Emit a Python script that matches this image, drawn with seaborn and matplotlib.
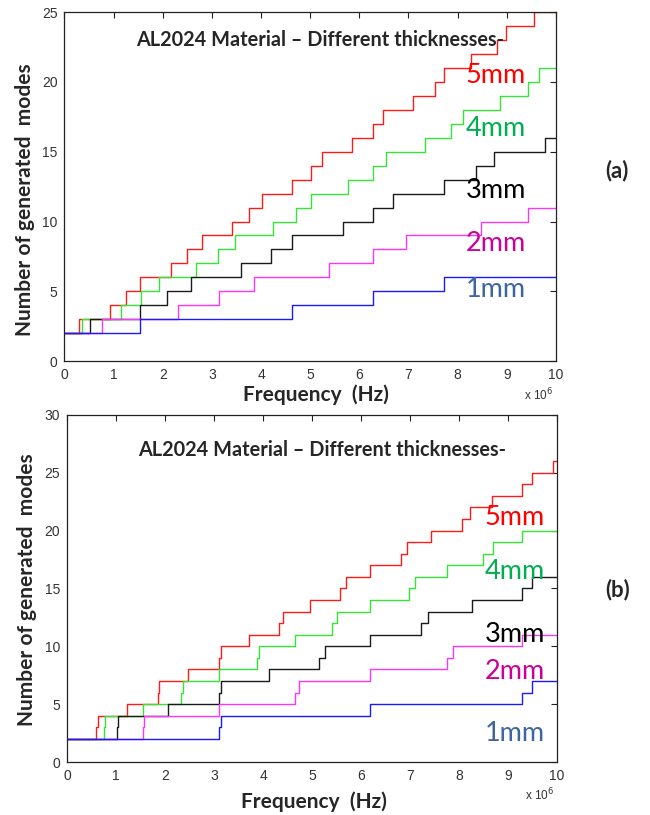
import numpy as np
import pandas as pd
import seaborn as sns
import matplotlib.pyplot as plt

# --- dados (frequencia em MHz, numero de modos) ---
# (a) frequencias onde a contagem sobe; a contagem comeca em 2
a_5mm = [0.30, 0.92, 1.25, 1.54, 2.16, 2.50, 2.79, 3.40, 3.76, 4.01, 4.64,
         5.01, 5.25, 5.86, 6.27, 6.48, 7.10, 7.54, 7.72, 8.28, 8.81, 8.98, 9.55]
a_4mm = [0.35, 1.15, 1.56, 1.93, 2.68, 3.13, 3.46, 4.24, 4.72,
         5.01, 5.77, 6.27, 6.55, 7.33, 7.86, 8.10, 8.86, 9.44, 9.65]
a_3mm = [0.51, 1.54, 2.08, 2.57, 3.60, 4.20, 4.64,
         5.66, 6.27, 6.69, 7.72, 8.38, 8.74, 9.78]
a_2mm = [0.76, 2.32, 3.14, 3.86, 5.39, 6.27, 6.94, 8.48, 9.44]
a_1mm = [1.54, 4.64, 6.27, 7.72]

# (b)
b_5mm = [0.59, 0.62, 1.23, 1.85, 1.88, 2.47, 3.09, 3.15, 3.72, 4.33, 4.41,
         4.95, 5.57, 5.69, 6.19, 6.81, 6.95, 7.43, 8.07, 8.23, 8.67, 9.30,
         9.49, 9.93]
b_4mm = [0.76, 0.78, 1.54, 2.32, 2.37, 3.09, 3.87, 3.92, 4.66,
         5.40, 5.52, 6.19, 6.98, 7.11, 7.75, 8.50, 8.69, 9.30]
b_3mm = [1.01, 1.04, 2.05, 3.09, 3.15, 4.12, 5.15, 5.27, 6.19,
         7.22, 7.36, 8.26, 9.30, 9.49]
b_2mm = [1.54, 1.57, 3.09, 4.66, 4.74, 6.19, 7.75, 7.89, 9.30]
b_1mm = [3.09, 3.15, 6.19, 9.30, 9.49]

espessuras = ['5mm', '4mm', '3mm', '2mm', '1mm']
n_inicial = 2
f_max = 10

cores_linha = {'5mm': '#ff1a1a', '4mm': '#33e633', '3mm': '#1a1a1a',
               '2mm': '#ff33ff', '1mm': '#1a1aff'}
cores_texto = {'5mm': '#ff0000', '4mm': '#00b050', '3mm': '#000000',
               '2mm': '#cc0099', '1mm': '#3d66a0'}


def monta_df(series):
    linhas = []
    for esp, saltos in zip(espessuras, series):
        fs = [0] + saltos + [f_max]
        ns = list(range(n_inicial, n_inicial + len(saltos) + 1))
        ns = ns + [ns[-1]]
        for f, n in zip(fs, ns):
            linhas.append({'f': f, 'n': n, 'esp': esp})
    return pd.DataFrame(linhas)


df_a = monta_df([a_5mm, a_4mm, a_3mm, a_2mm, a_1mm])
df_b = monta_df([b_5mm, b_4mm, b_3mm, b_2mm, b_1mm])

sns.set_style('white')
plt.rcParams['font.family'] = ['Lato', 'DejaVu Sans']

fig = plt.figure(figsize=(6.5, 8.15), dpi=100)
ax_a = fig.add_axes([0.0992, 0.557, 0.756, 0.428])
ax_b = fig.add_axes([0.1035, 0.065, 0.753, 0.426])

# eixo, dados, ymax, ticks, letra, (x,y) letra, (x,y) ylabel, (x,y) xlabel,
# y do "x 10^6", y do titulo, x e y dos rotulos de espessura
paineis = [
    (ax_a, df_a, 25, [0, 5, 10, 15, 20, 25], '(a)', (1.125, 0.547),
     (-0.08, 0.464), (0.512, -0.097), -0.097, 0.92, 8.17,
     {'5mm': 20.5, '4mm': 16.7, '3mm': 12.25, '2mm': 8.45, '1mm': 5.1}),
    (ax_b, df_b, 30, [0, 5, 10, 15, 20, 25, 30], '(b)', (1.125, 0.496),
     (-0.082, 0.496), (0.503, -0.115), -0.095, 0.9, 8.53,
     {'5mm': 21.1, '4mm': 16.5, '3mm': 11.05, '2mm': 7.8, '1mm': 2.5}),
]

for (ax, df, y_max, y_ticks, letra, pos_letra, pos_ylab, pos_xlab,
     y_exp, y_titulo, x_rot, pos_rotulo) in paineis:
    sns.lineplot(data=df, x='f', y='n', hue='esp', palette=cores_linha,
                 estimator=None, sort=False, drawstyle='steps-post',
                 linewidth=1.0, legend=False, ax=ax)
    ax.set_xlim(0, f_max)
    ax.set_ylim(0, y_max)
    ax.set_xticks(range(0, 11))
    ax.set_yticks(y_ticks)
    ax.tick_params(direction='in', top=True, right=True, length=4,
                   width=0.8, labelsize=10, colors='#222222',
                   labelcolor='#333333', pad=5)
    for lab in ax.get_xticklabels() + ax.get_yticklabels():
        lab.set_family('Liberation Sans')
    for sp in ax.spines.values():
        sp.set_color('#222222')
        sp.set_linewidth(0.9)
    ax.set_xlabel('Frequency  (Hz)', fontsize=15, fontweight='bold')
    ax.xaxis.set_label_coords(*pos_xlab)
    ax.xaxis.label.set_va('center')
    ax.set_ylabel('Number of generated  modes', fontsize=15,
                  fontweight='bold')
    ax.yaxis.set_label_coords(*pos_ylab)
    ax.yaxis.label.set_va('center')
    ax.text(0.52, y_titulo, 'AL2024 Material \u2013 Different thicknesses-',
            transform=ax.transAxes, ha='center', va='center',
            fontsize=14.3, fontweight='bold')
    for esp in espessuras:
        ax.text(x_rot, pos_rotulo[esp], esp, color=cores_texto[esp],
                fontsize=19.5, ha='left', va='center')
    ax.text(0.995, y_exp, 'x 10$^6$', transform=ax.transAxes,
            ha='right', va='center', fontsize=8.5, color='#333333',
            family='Liberation Sans')
    ax.text(pos_letra[0], pos_letra[1], letra,
            transform=ax.transAxes, ha='center', va='center',
            fontsize=16, fontweight='bold')

plt.savefig('out.png', dpi=100)
